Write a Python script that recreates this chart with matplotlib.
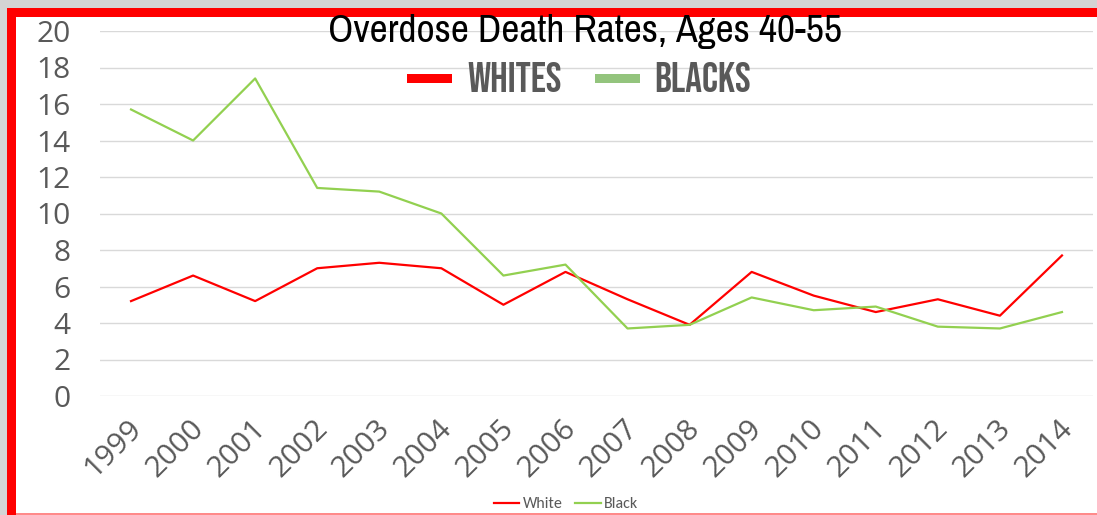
import matplotlib
matplotlib.use("Agg")
import matplotlib.pyplot as plt
import matplotlib.patches as patches
import matplotlib.transforms as mtransforms
from matplotlib.lines import Line2D
import logging
logging.getLogger("matplotlib.font_manager").setLevel(logging.ERROR)

years = [str(y) for y in range(1999, 2015)]
white = [5.2, 6.6, 5.2, 7.0, 7.3, 7.0, 5.0, 6.8, 5.3, 3.9, 6.8, 5.5, 4.6, 5.3, 4.4, 7.7]
black = [15.7, 14.0, 17.4, 11.4, 11.2, 10.0, 6.6, 7.2, 3.7, 3.9, 5.4, 4.7, 4.9, 3.8, 3.7, 4.6]
y_ticks = list(range(0, 21, 2))

RED = "#ff0000"
GREEN = "#92d050"
TICK_GRAY = "#595959"
BODY_FONT = ["Open Sans", "DejaVu Sans"]
LEGEND_FONT = ["Carlito", "Open Sans", "DejaVu Sans"]
TITLE_FONT = ["Archivo Narrow", "DejaVu Sans"]
HEAD_FONT = ["Bebas Neue", "Oswald", "Archivo Narrow", "DejaVu Sans"]

W, H = 1097, 515
fig = plt.figure(figsize=(W / 100, H / 100), dpi=100, facecolor="#d4d4d4")

# white card with thick red border on top/left
fig.add_artist(patches.Rectangle((7 / W, 0), 1 - 7 / W, 1 - 8 / H, transform=fig.transFigure,
                                 facecolor="white", edgecolor="none", zorder=0))
fig.add_artist(patches.Rectangle((7 / W, 1 - 17 / H), 1 - 7 / W, 9 / H, transform=fig.transFigure,
                                 facecolor=RED, edgecolor="none", zorder=1))
fig.add_artist(patches.Rectangle((7 / W, 0), 9 / W, 1 - 8 / H, transform=fig.transFigure,
                                 facecolor=RED, edgecolor="none", zorder=1))
fig.add_artist(patches.Rectangle((16 / W, 0), 1 - 16 / W, 2 / H, transform=fig.transFigure,
                                 facecolor="#ff8a8a", edgecolor="none", zorder=1))

ax = fig.add_axes([100 / W, (H - 396) / H, 993 / W, 365 / H])
ax.set_facecolor("none")
x = range(len(years))
ax.plot(x, white, color=RED, lw=1.6, label="White", zorder=3)
ax.plot(x, black, color=GREEN, lw=1.6, label="Black", zorder=3)

ax.set_xlim(-0.5, len(years) - 0.5)
ax.set_ylim(0, 20)
ax.set_yticks(y_ticks)
ax.set_xticks(list(x))
ax.set_xticklabels(years, rotation=45, ha="right", rotation_mode="anchor")
ax.tick_params(axis="both", length=0, labelsize=21.5, labelcolor=TICK_GRAY)
ax.tick_params(axis="x", pad=13)
ax.tick_params(axis="y", pad=21)
shift = mtransforms.ScaledTranslation(-4 / 100, 0, fig.dpi_scale_trans)
for lab in ax.get_xticklabels():
    lab.set_family(BODY_FONT)
    lab.set_transform(lab.get_transform() + shift)
for lab in ax.get_yticklabels():
    lab.set_family(BODY_FONT)
ax.grid(axis="y", color="#d9d9d9", lw=1)
ax.set_axisbelow(True)
for s in ax.spines.values():
    s.set_visible(False)

fig.text(585 / W, 1 - 42 / H, "Overdose Death Rates, Ages 40-55", ha="center", va="baseline",
         fontsize=28.5, color="black", family=TITLE_FONT)

# big header legend
fig.add_artist(patches.Rectangle((407 / W, 1 - 83 / H), 45 / W, 9 / H, transform=fig.transFigure,
                                 facecolor=RED, edgecolor="none"))
fig.add_artist(patches.Rectangle((595 / W, 1 - 83 / H), 45 / W, 9 / H, transform=fig.transFigure,
                                 facecolor="#93c47d", edgecolor="none"))
for xp, txt in [(467, "WHITES"), (654, "BLACKS")]:
    fig.text(xp / W, 1 - 92 / H, txt, ha="left", va="baseline", fontsize=30,
             color="#595959", family=HEAD_FONT)

# small bottom legend
fig.legend(handles=[Line2D([], [], color=RED, lw=1.6, label="White"),
                    Line2D([], [], color=GREEN, lw=1.6, label="Black")],
           loc="center", bbox_to_anchor=(566 / W, 1 - 504 / H), ncol=2, frameon=False,
           labelcolor=TICK_GRAY, handlelength=1.6, handletextpad=0.2,
           columnspacing=0.8, prop={"family": LEGEND_FONT, "size": 11.5})

fig.savefig("out.png", dpi=100, facecolor=fig.get_facecolor())
